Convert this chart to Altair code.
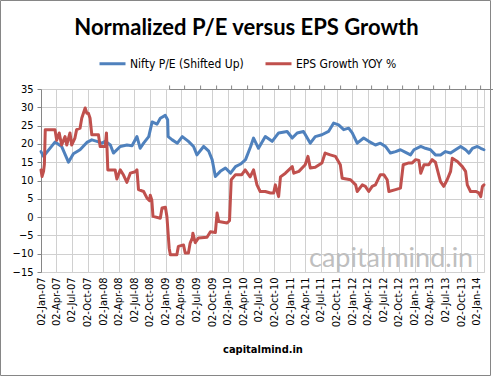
import altair as alt
import pandas as pd

# ---------------- data ----------------
series_names = ["Nifty P/E (Shifted Up)", "EPS Growth YOY %"]
series_colors = ["#4F81BD", "#C0504D"]

pe_dates = [
    "2007-01-02", "2007-01-17", "2007-02-08", "2007-03-25", "2007-05-03", "2007-06-12",
    "2007-07-11", "2007-08-19", "2007-09-28", "2007-10-27", "2007-11-26", "2007-12-25",
    "2008-01-14", "2008-02-13", "2008-03-02", "2008-04-11", "2008-05-20", "2008-06-19",
    "2008-07-18", "2008-08-06", "2008-08-26", "2008-09-25", "2008-10-15", "2008-11-13",
    "2008-12-02", "2008-12-31", "2009-01-14", "2009-01-17", "2009-02-10", "2009-03-12",
    "2009-04-10", "2009-05-16", "2009-06-15", "2009-07-05", "2009-08-13", "2009-09-12",
    "2009-10-02", "2009-10-21", "2009-11-19", "2009-12-19", "2010-01-18", "2010-02-16",
    "2010-03-18", "2010-04-16", "2010-05-16", "2010-06-02", "2010-07-01", "2010-08-10",
    "2010-09-19", "2010-10-27", "2010-12-16", "2011-01-15", "2011-02-13", "2011-03-22",
    "2011-05-01", "2011-05-30", "2011-07-08", "2011-08-16", "2011-09-15", "2011-10-14",
    "2011-11-13", "2011-12-12", "2012-01-02", "2012-01-31", "2012-03-09", "2012-04-08",
    "2012-05-17", "2012-06-15", "2012-07-15", "2012-08-13", "2012-09-12", "2012-10-11",
    "2012-11-10", "2012-12-09", "2012-12-29", "2013-02-07", "2013-03-06", "2013-04-05",
    "2013-05-04", "2013-06-03", "2013-07-02", "2013-08-01", "2013-08-30", "2013-09-29",
    "2013-10-28", "2013-11-17", "2013-12-07", "2014-01-05", "2014-01-25", "2014-02-13",
]
pe_values = [
    17.9, 16.6, 17.9, 20.5, 19.3, 15.0,
    17.3, 18.4, 20.4, 21.1, 20.7, 20.2,
    20.7, 19.7, 17.5, 19.3, 19.7, 19.5,
    22.0, 18.8, 20.2, 22.0, 26.0, 25.4,
    27.0, 27.8, 26.6, 22.0, 21.1, 20.2,
    22.0, 20.7, 19.3, 17.0, 19.3, 18.0,
    15.7, 11.1, 12.5, 13.4, 12.0, 13.8,
    14.5, 15.7, 19.3, 21.6, 18.8, 22.0,
    20.7, 23.0, 23.4, 21.6, 23.0, 23.4,
    20.2, 22.0, 22.5, 23.4, 25.7, 25.2,
    23.9, 24.3, 23.0, 20.2, 21.6, 20.7,
    19.7, 20.2, 19.3, 17.5, 17.9, 18.4,
    17.7, 17.0, 18.4, 19.3, 18.8, 18.4,
    17.0, 17.0, 17.9, 17.5, 18.4, 19.3,
    18.4, 17.5, 18.8, 19.3, 18.8, 18.4,
]

eps_dates = [
    "2007-01-02", "2007-01-08", "2007-01-17", "2007-01-22", "2007-01-27", "2007-03-25",
    "2007-04-04", "2007-04-19", "2007-05-03", "2007-05-23", "2007-06-02", "2007-06-21",
    "2007-07-01", "2007-07-20", "2007-07-30", "2007-08-19", "2007-08-29", "2007-09-18",
    "2007-09-28", "2007-10-07", "2007-10-17", "2007-10-27", "2007-12-05", "2007-12-15",
    "2008-01-14", "2008-01-21", "2008-01-29", "2008-03-12", "2008-03-22", "2008-04-11",
    "2008-04-30", "2008-05-20", "2008-06-09", "2008-07-08", "2008-07-18", "2008-07-27",
    "2008-08-26", "2008-09-15", "2008-09-30", "2008-10-04", "2008-10-13", "2008-10-20",
    "2008-12-02", "2008-12-12", "2009-01-01", "2009-01-10", "2009-01-23", "2009-01-30",
    "2009-03-09", "2009-03-18", "2009-04-17", "2009-04-27", "2009-05-16", "2009-05-26",
    "2009-06-08", "2009-06-11", "2009-06-25", "2009-07-14", "2009-09-02", "2009-09-22",
    "2009-10-21", "2009-10-31", "2009-11-10", "2009-12-29", "2010-01-12", "2010-01-22",
    "2010-02-16", "2010-03-25", "2010-04-14", "2010-05-13", "2010-06-02", "2010-06-22",
    "2010-07-11", "2010-08-10", "2010-09-09", "2010-09-28", "2010-10-08", "2010-10-27",
    "2010-11-07", "2010-12-06", "2011-01-15", "2011-01-24", "2011-02-23", "2011-04-01",
    "2011-04-17", "2011-05-01", "2011-05-30", "2011-07-08", "2011-07-27", "2011-08-26",
    "2011-09-25", "2011-10-24", "2011-11-04", "2011-12-23", "2012-01-22", "2012-01-31",
    "2012-03-01", "2012-03-19", "2012-04-08", "2012-04-28", "2012-05-17", "2012-06-15",
    "2012-07-05", "2012-07-25", "2012-08-04", "2012-09-12", "2012-10-11", "2012-10-27",
    "2012-11-29", "2012-12-19", "2013-01-08", "2013-01-27", "2013-02-07", "2013-02-26",
    "2013-03-26", "2013-04-15", "2013-05-04", "2013-05-23", "2013-06-03", "2013-06-22",
    "2013-07-12", "2013-08-01", "2013-08-11", "2013-09-10", "2013-10-09", "2013-10-28",
    "2013-11-07", "2013-11-26", "2013-12-26", "2014-01-14", "2014-01-25", "2014-02-04",
    "2014-02-13",
]
eps_values = [
    12.9, 11.1, 12.5, 14.5, 23.9, 23.9,
    21.0, 23.0, 19.7, 22.0, 19.7, 23.0,
    19.7, 21.6, 23.9, 24.3, 27.0, 29.8,
    28.4, 28.4, 27.0, 22.5, 22.5, 19.3,
    19.3, 23.0, 12.9, 12.9, 10.4, 12.9,
    11.5, 9.5, 12.0, 12.4, 12.9, 7.5,
    7.0, 5.2, 4.5, 6.0, 4.7, 0.2,
    -0.3, 2.5, 2.7, 0.0, -8.5, -10.3,
    -10.3, -8.0, -7.6, -9.8, -9.8, -7.1,
    -5.7, -4.4, -7.0, -5.7, -5.5, -4.0,
    -4.2, 1.1, -1.2, -1.6, -1.0, 10.2,
    11.6, 11.6, 12.9, 11.0, 12.9, 8.8,
    7.0, 7.0, 6.6, 6.6, 8.8, 5.6,
    11.0, 12.0, 13.8, 12.0, 12.5, 14.3,
    16.6, 13.4, 13.6, 14.8, 17.5, 17.0,
    16.6, 14.3, 10.6, 10.2, 8.8, 7.0,
    8.8, 8.4, 7.0, 8.4, 8.8, 11.6,
    11.6, 10.2, 7.0, 7.5, 7.9, 14.3,
    14.8, 14.8, 15.7, 15.5, 12.0, 14.3,
    14.3, 15.7, 15.0, 11.6, 9.7, 8.4,
    10.2, 12.5, 16.1, 15.2, 13.8, 12.5,
    8.8, 7.0, 7.0, 6.6, 5.6, 8.4,
    8.8,
]

tick_dates = [
    "2007-01-02", "2007-04-02", "2007-07-02", "2007-10-02",
    "2008-01-02", "2008-04-02", "2008-07-02", "2008-10-02",
    "2009-01-02", "2009-04-02", "2009-07-02", "2009-10-02",
    "2010-01-02", "2010-04-02", "2010-07-02", "2010-10-02",
    "2011-01-02", "2011-04-02", "2011-07-02", "2011-10-02",
    "2012-01-02", "2012-04-02", "2012-07-02", "2012-10-02",
    "2013-01-02", "2013-04-02", "2013-07-02", "2013-10-02",
    "2014-01-02",
]
y_ticks = [-15, -10, -5, 0, 5, 10, 15, 20, 25, 30, 35]

title_text = "Normalized P/E versus EPS Growth"
footer_text = "capitalmind.in"
watermark_text = "capitalmind.in"

# ---------------- build table ----------------
df = pd.concat([
    pd.DataFrame({"date": pe_dates, "value": pe_values, "series": series_names[0]}),
    pd.DataFrame({"date": eps_dates, "value": eps_values, "series": series_names[1]}),
], ignore_index=True)


def dt(s):
    y, m, d = (int(p) for p in s.split("-"))
    return alt.DateTime(year=y, month=m, date=d, utc=True)


FONT = "DejaVu Sans Condensed"
W, H = 443, 183
AXIS_GRAY = "#868686"
GRID = "#d0d0d0"

x_scale = alt.Scale(type="utc", domain=[dt(pe_dates[0]), dt(pe_dates[-1])])
y_scale = alt.Scale(domain=[y_ticks[0], y_ticks[-1]], nice=False, zero=False)
tick_vals = [dt(d) for d in tick_dates]

lines = alt.Chart(df).mark_line(strokeWidth=3, strokeJoin="round", strokeCap="round").encode(
    x=alt.X("date:T", scale=x_scale, axis=alt.Axis(
        values=tick_vals, labelExpr="utcFormat(datum.value, '%d-%b-%y')",
        labelAngle=270, labelAlign="right", labelBaseline="middle",
        labelPadding=5, labelFont=FONT, labelFontSize=11, labelColor="#000000",
        labelOverlap=False, labelFlush=False,
        grid=True, gridColor=GRID, gridWidth=1, domain=False, ticks=False,
        title=footer_text, titleFont=FONT, titleFontSize=11, titleFontWeight="bold",
        titleColor="#000000", titleY=80, titleBaseline="alphabetic")),
    y=alt.Y("value:Q", scale=y_scale, axis=alt.Axis(
        values=y_ticks, labelFont=FONT, labelFontSize=11, labelColor="#000000",
        labelPadding=4, grid=True, gridColor=GRID, domain=True, domainColor=AXIS_GRAY,
        ticks=True, tickSize=4, tickColor=AXIS_GRAY, title=None)),
    color=alt.Color("series:N", scale=alt.Scale(domain=series_names, range=series_colors),
                    sort=series_names,
                    legend=alt.Legend(orient="none", legendX=57, legendY=-40,
                                      direction="horizontal", title=None,
                                      symbolType="stroke", symbolSize=676, symbolStrokeWidth=3,
                                      labelFont=FONT, labelFontSize=12, labelColor="#000000",
                                      labelOffset=3, columnPadding=15, padding=0)),
)

zero_axis = alt.Chart(df[df["series"] == series_names[0]]).mark_line(opacity=0).encode(
    x=alt.X("date:T", scale=x_scale, axis=alt.Axis(
        values=tick_vals, position=H * y_ticks[-1] / (y_ticks[-1] - y_ticks[0]),
        labels=False, grid=False, domain=True, domainColor=AXIS_GRAY, domainWidth=1,
        ticks=True, tickSize=4, tickColor=AXIS_GRAY, title=None)),
    y=alt.Y("value:Q", scale=y_scale, axis=None),
)

watermark = alt.Chart(pd.DataFrame({"t": [watermark_text]})).mark_text(
    font="Lato", fontSize=27, color="#bfbfbf", align="left", baseline="alphabetic"
).encode(x=alt.value(268), y=alt.value(178), text="t:N")

border = alt.Chart(pd.DataFrame({"t": [0]})).mark_rect(
    filled=False, stroke=AXIS_GRAY, strokeWidth=1
).encode(x=alt.value(-40.5), x2=alt.value(449.5), y=alt.value(-88.5), y2=alt.value(286.5))

chart = alt.layer(watermark, lines, zero_axis, border).resolve_axis(
    x="independent", y="independent"
).properties(
    width=W, height=H,
    padding={"left": 41, "top": 89, "right": 9, "bottom": 105},
    autosize=alt.AutoSizeParams(type="none"),
    title=alt.TitleParams(title_text, font="Lato", fontSize=22, fontWeight="bold",
                          color="#000000", anchor="middle", dx=-16, dy=50, offset=10),
    background="white",
).configure_view(stroke=GRID)

chart.save("out.html", embed_options={"renderer": "svg", "actions": False})
